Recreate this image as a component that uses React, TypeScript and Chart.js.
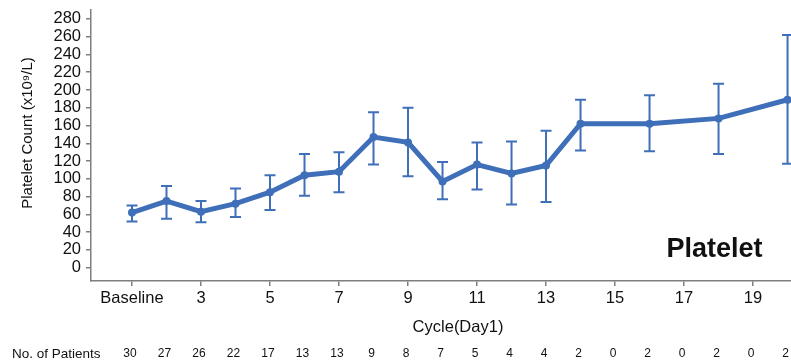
import React, { useEffect, useRef } from "react";
import { Chart, registerables } from "chart.js";

Chart.register(...registerables);

const cycles = [1, 2, 3, 4, 5, 6, 7, 8, 9, 10, 11, 12, 13, 14, 16, 18, 20];
const means = [62, 75, 63, 72, 85, 104, 108, 147, 141, 97, 116, 106, 115, 162, 162, 168, 189];
const upper = [70, 92, 75, 89, 104, 128, 130, 175, 180, 119, 141, 142, 154, 189, 194, 207, 262];
const lower = [52, 55, 51, 57, 65, 81, 85, 116, 103, 77, 88, 71, 74, 132, 131, 128, 117];

const patientCycles = [1, 2, 3, 4, 5, 6, 7, 8, 9, 10, 11, 12, 13, 14, 15, 16, 17, 18, 19, 20];
const patients = [30, 27, 26, 22, 17, 13, 13, 9, 8, 7, 5, 4, 4, 2, 0, 2, 0, 2, 0, 2];

const xTicks = [1, 3, 5, 7, 9, 11, 13, 15, 17, 19];
const yTicks = [0, 20, 40, 60, 80, 100, 120, 140, 160, 180, 200, 220, 240, 260, 280];

const COLOR = "#3f6fb8";
const AXIS = "#7f7f7f";
const FONT = "'Liberation Sans', Arial, sans-serif";

const errorBars = {
  id: "errorBars",
  beforeDatasetsDraw(chart: any) {
    const { ctx, scales } = chart;
    const xs = scales.x;
    const ys = scales.y;
    ctx.save();
    ctx.strokeStyle = COLOR;
    ctx.lineWidth = 2;
    cycles.forEach((c, i) => {
      const x = xs.getPixelForValue(c);
      const yt = ys.getPixelForValue(upper[i]);
      const yb = ys.getPixelForValue(lower[i]);
      ctx.beginPath();
      ctx.moveTo(x, yt);
      ctx.lineTo(x, yb);
      ctx.moveTo(x - 5.5, yt);
      ctx.lineTo(x + 5.5, yt);
      ctx.moveTo(x - 5.5, yb);
      ctx.lineTo(x + 5.5, yb);
      ctx.stroke();
    });
    ctx.restore();
  },
};

const texts = {
  id: "texts",
  afterDraw(chart: any) {
    const { ctx, scales } = chart;
    const xs = scales.x;
    ctx.save();
    ctx.fillStyle = "#111";
    // y axis title
    ctx.save();
    ctx.translate(27.5, 133);
    ctx.rotate(-Math.PI / 2);
    ctx.textAlign = "center";
    ctx.textBaseline = "middle";
    ctx.font = `15px ${FONT}`;
    ctx.fillText("Platelet Count (x10⁹/L)", 0, 0);
    ctx.restore();
    // x axis title
    ctx.textAlign = "center";
    ctx.textBaseline = "middle";
    ctx.font = `16.5px ${FONT}`;
    ctx.fillText("Cycle(Day1)", 458, 327);
    // patients row
    ctx.textAlign = "left";
    ctx.font = `13.5px ${FONT}`;
    ctx.fillText("No. of Patients", 12, 354);
    ctx.textAlign = "center";
    ctx.font = `12px ${FONT}`;
    patientCycles.forEach((c, i) => {
      ctx.fillText(String(patients[i]), xs.getPixelForValue(c) - 2, 354);
    });
    // label
    ctx.font = `bold 27px ${FONT}`;
    ctx.textAlign = "center";
    ctx.textBaseline = "alphabetic";
    ctx.fillText("Platelet", 714.5, 256.5);
    ctx.restore();
  },
};

export default function App() {
  const ref = useRef<HTMLCanvasElement>(null);
  useEffect(() => {
    if (!ref.current) return;
    const chart = new Chart(ref.current, {
      type: "line",
      data: {
        datasets: [
          {
            data: cycles.map((c, i) => ({ x: c, y: means[i] })),
            borderColor: COLOR,
            backgroundColor: COLOR,
            borderWidth: 5,
            pointRadius: 4,
            pointBorderWidth: 0,
            pointBackgroundColor: COLOR,
            tension: 0,
            clip: false as any,
          },
        ],
      },
      options: {
        animation: false,
        responsive: false,
        layout: { autoPadding: false, padding: { top: 10, right: 0, left: 0, bottom: 0 } },
        plugins: { legend: { display: false }, tooltip: { enabled: false } },
        scales: {
          x: {
            type: "linear",
            min: -0.188,
            max: 20.1,
            afterBuildTicks: (s: any) => {
              s.ticks = xTicks.map((v) => ({ value: v }));
            },
            afterFit: (s: any) => {
              s.height = 80;
              s.paddingLeft = 0;
              s.paddingRight = 0;
            },
            ticks: {
              callback: (v: any) => (v === 1 ? "Baseline" : String(v)),
              font: { family: FONT, size: 16.5 },
              color: "#111",
              padding: 3,
              maxRotation: 0,
              autoSkip: false,
            },
            grid: { display: true, drawOnChartArea: false, drawTicks: true, tickLength: 5, color: AXIS, lineWidth: 1.5 },
            border: { display: true, color: AXIS, width: 1.5 },
          },
          y: {
            type: "linear",
            min: -15,
            max: 290,
            afterBuildTicks: (s: any) => {
              s.ticks = yTicks.map((v) => ({ value: v }));
            },
            afterFit: (s: any) => {
              s.width = 91;
              s.paddingTop = 0;
              s.paddingBottom = 0;
            },
            ticks: {
              font: { family: FONT, size: 16.5 },
              color: "#111",
              padding: 5,
              autoSkip: false,
            },
            grid: { display: true, drawOnChartArea: false, drawTicks: true, tickLength: 5, color: AXIS, lineWidth: 1.5 },
            border: { display: true, color: AXIS, width: 1.5 },
          },
        },
      },
      plugins: [errorBars, texts],
    });
    return () => chart.destroy();
  }, []);
  return (
    <div style={{ position: "absolute", left: 0, top: 0, width: 791, height: 361, background: "#fff" }}>
      <canvas ref={ref} width={791} height={361} />
    </div>
  );
}
